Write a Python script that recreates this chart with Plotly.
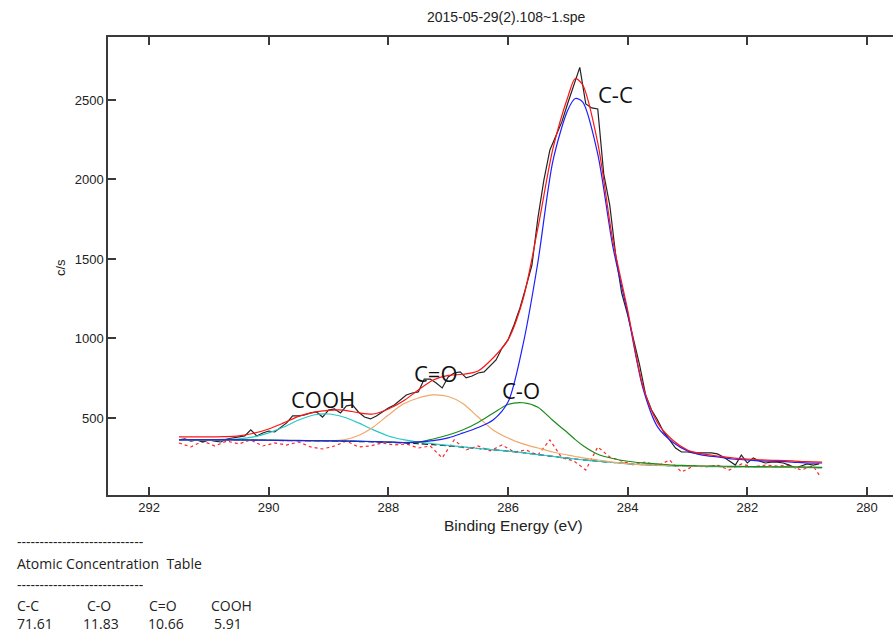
import plotly.graph_objects as go

# ---------------- data ----------------
title_text = "2015-05-29(2).108~1.spe"

# binding energy grid for the fitted curves
be_fit = [291.5, 291.25, 291.0, 290.75, 290.5, 290.25, 290.0, 289.75, 289.5, 289.25,
          289.0, 288.75, 288.5, 288.25, 288.0, 287.75, 287.5, 287.25, 287.0, 286.75,
          286.5, 286.25, 286.0, 285.75, 285.5, 285.25, 285.0, 284.875, 284.75, 284.5,
          284.25, 284.0, 283.75, 283.5, 283.25, 283.0, 282.75, 282.5, 282.25, 282.0,
          281.75, 281.5, 281.25, 281.0, 280.75]

background = [362, 362, 362, 362, 361, 360, 359, 358, 357, 356,
              355, 354, 352, 350, 347, 343, 338, 332, 325, 317,
              308, 300, 292, 282, 270, 258, 247, 242, 237, 228,
              220, 213, 207, 203, 200, 198, 196, 195, 194, 193,
              192, 191, 190, 189, 188]

cooh = [362, 362, 363, 365, 369, 381, 406, 443, 487, 519,
        525, 506, 469, 425, 387, 364, 349, 338, 328, 318,
        308, 300, 292, 282, 270, 258, 247, 242, 237, 228,
        220, 212, 206, 202, 199, 197, 195, 194, 193, 192,
        191, 190, 189, 188, 187]

c_eq_o = [362, 362, 362, 362, 361, 360, 359, 358, 357, 356,
          356, 362, 390, 444, 519, 588, 626, 645, 635, 590,
          506, 425, 374, 337, 311, 286, 267, 258, 249, 236,
          223, 213, 207, 203, 200, 198, 196, 195, 194, 193,
          192, 191, 190, 189, 188]

c_o = [364, 364, 364, 364, 363, 362, 361, 360, 359, 358,
       357, 356, 354, 352, 349, 346, 347, 368, 393, 426,
       472, 530, 585, 596, 568, 484, 406, 364, 327, 272,
       245, 228, 218, 211, 204, 201, 198, 197, 196, 195,
       194, 193, 192, 191, 190]

c_c = [362, 362, 362, 362, 362, 361, 360, 359, 358, 357,
       356, 355, 353, 351, 349, 346, 350, 358, 375, 406,
       440, 487, 600, 960, 1481, 2116, 2437, 2509, 2487, 2160,
       1582, 1160, 695, 444, 349, 293, 267, 255, 242, 236,
       230, 227, 223, 217, 217]

envelope = [381, 381, 381, 383, 388, 404, 431, 469, 510, 535,
            548, 550, 533, 525, 557, 607, 676, 739, 768, 775,
            796, 877, 991, 1245, 1695, 2192, 2519, 2635, 2594, 2230,
            1620, 1179, 708, 469, 362, 299, 274, 261, 249, 242,
            236, 233, 230, 225, 223]

# measured spectrum (0.1 eV steps)
be_raw = [291.5, 291.4, 291.3, 291.2, 291.1, 291.0, 290.9, 290.8, 290.7, 290.6,
          290.5, 290.4, 290.3, 290.2, 290.1, 290.0, 289.9, 289.8, 289.7, 289.6,
          289.5, 289.4, 289.3, 289.2, 289.1, 289.0, 288.9, 288.8, 288.7, 288.6,
          288.5, 288.4, 288.3, 288.2, 288.1, 288.0, 287.9, 287.8, 287.7, 287.6,
          287.5, 287.4, 287.3, 287.2, 287.1, 287.0, 286.9, 286.8, 286.7, 286.6,
          286.5, 286.4, 286.3, 286.2, 286.1, 286.0, 285.9, 285.8, 285.7, 285.6,
          285.5, 285.4, 285.3, 285.2, 285.1, 285.0, 284.9, 284.8, 284.7, 284.6,
          284.5, 284.4, 284.3, 284.2, 284.1, 284.0, 283.9, 283.8, 283.7, 283.6,
          283.5, 283.4, 283.3, 283.2, 283.1, 283.0, 282.9, 282.8, 282.7, 282.6,
          282.5, 282.4, 282.3, 282.2, 282.1, 282.0, 281.9, 281.8, 281.7, 281.6,
          281.5, 281.4, 281.3, 281.2, 281.1, 281.0, 280.9, 280.8]

raw_counts = [362, 368, 355, 362, 349, 362, 355, 349, 368, 374,
              381, 387, 425, 387, 406, 418, 412, 443, 469, 513,
              513, 519, 532, 538, 506, 550, 557, 532, 576, 582,
              538, 506, 494, 513, 538, 563, 582, 613, 645, 657,
              664, 745, 745, 720, 689, 758, 783, 790, 752, 764,
              783, 790, 827, 865, 940, 991, 1085, 1192, 1324, 1462,
              1758, 1997, 2186, 2280, 2362, 2481, 2600, 2705, 2475, 2450,
              2443, 2035, 1840, 1525, 1286, 1148, 991, 833, 645, 550,
              487, 412, 362, 311, 286, 286, 280, 280, 280, 280,
              274, 255, 230, 204, 267, 217, 249, 230, 217, 223,
              223, 217, 204, 186, 198, 211, 204, 211]

# residual (plotted on the background level)
be_res = [291.5, 291.3, 291.1, 290.9, 290.7, 290.5, 290.3, 290.1, 289.9, 289.7,
          289.5, 289.3, 289.1, 288.9, 288.7, 288.5, 288.3, 288.1, 287.9, 287.7,
          287.5, 287.3, 287.1, 286.9, 286.7, 286.5, 286.3, 286.1, 285.9, 285.7,
          285.5, 285.3, 285.1, 284.9, 284.7, 284.5, 284.3, 284.1, 283.9, 283.7,
          283.5, 283.3, 283.1, 282.9, 282.7, 282.5, 282.3, 282.1, 281.9, 281.7,
          281.5, 281.3, 281.1, 280.9, 280.8]

residual = [343, 318, 355, 324, 355, 337, 362, 324, 343, 330,
            349, 318, 305, 324, 355, 318, 324, 343, 330, 337,
            311, 324, 249, 362, 299, 324, 293, 330, 286, 299,
            267, 362, 249, 230, 173, 318, 255, 230, 204, 223,
            198, 236, 160, 198, 192, 204, 173, 211, 192, 204,
            198, 204, 173, 198, 142]

x_ticks = [292, 290, 288, 286, 284, 282, 280]
y_ticks = [500, 1000, 1500, 2000, 2500]

peak_labels = ["C-C", "C=O", "COOH", "C-O"]
peak_label_be = [284.2, 287.21, 289.09, 285.79]
peak_label_cps = [2538, 783, 620, 676]

table_title = "Atomic Concentration  Table"
table_names = ["C-C", "C-O", "C=O", "COOH"]
table_values = ["71.61", "11.83", "10.66", "5.91"]

# ---------------- layout helpers (pixel geometry) ----------------
W, H = 893, 634
PL, PR, PT, PB = 108, 893, 37, 495


def px(x):
    return (x - PL) / (PR - PL)


def py(y):
    return (PB - y) / (PB - PT)


fig = go.Figure()

LW = 1.2


def add_line(x, y, color, dash="solid", width=LW, shape="spline"):
    fig.add_trace(go.Scatter(x=x, y=y, mode="lines",
                             line=dict(color=color, width=width, dash=dash, shape=shape,
                                       smoothing=0.8 if shape == "spline" else None),
                             showlegend=False, hoverinfo="skip"))


add_line(be_res, residual, "rgb(255,40,40)", dash="3px,3px", shape="linear")
add_line(be_fit, background, "rgb(20,20,20)", dash="6px,3px")
add_line(be_raw, raw_counts, "rgb(35,35,35)", shape="linear")
add_line(be_fit, cooh, "rgb(40,200,200)")
add_line(be_fit, c_eq_o, "rgb(240,168,105)")
add_line(be_fit, c_o, "rgb(25,140,25)")
add_line(be_fit, c_c, "rgb(30,30,255)")
add_line(be_fit, envelope, "rgb(255,20,20)")

annotations = []
# chart title
annotations.append(dict(text=title_text, x=px(506), y=py(17), xref="paper", yref="paper",
                        showarrow=False, xanchor="center", yanchor="middle",
                        font=dict(family="Liberation Sans, Arial", size=14, color="#222")))
# axis titles
annotations.append(dict(text="Binding Energy (eV)", x=px(513), y=py(525), xref="paper", yref="paper",
                        showarrow=False, xanchor="center", yanchor="middle",
                        font=dict(family="Liberation Sans, Arial", size=15.5, color="#222")))
annotations.append(dict(text="c/s", x=px(60), y=py(268), xref="paper", yref="paper",
                        showarrow=False, xanchor="center", yanchor="middle", textangle=-90,
                        font=dict(family="Liberation Sans, Arial", size=13, color="#222")))
# peak labels
for t, xb, yc in zip(peak_labels, peak_label_be, peak_label_cps):
    annotations.append(dict(text=t, x=xb, y=yc, xref="x", yref="y", showarrow=False,
                            xanchor="center", yanchor="middle",
                            font=dict(family="Open Sans, Noto Sans", size=22, color="#111")))

# table under the chart
tfont = dict(family="Open Sans, Noto Sans", size=14, color="#222")
dash_line = "-" * 28
for yy, txt in [(541, dash_line), (563, table_title), (584, dash_line)]:
    annotations.append(dict(text=txt, x=px(15), y=py(yy), xref="paper", yref="paper",
                            showarrow=False, xanchor="left", yanchor="middle", font=tfont))
name_x = [15, 85, 147, 209]
val_x = [15, 81, 146, 212]
for nm, vv, nx, vx in zip(table_names, table_values, name_x, val_x):
    annotations.append(dict(text=nm, x=px(nx), y=py(605), xref="paper", yref="paper",
                            showarrow=False, xanchor="left", yanchor="middle", font=tfont))
    annotations.append(dict(text=vv, x=px(vx), y=py(623), xref="paper", yref="paper",
                            showarrow=False, xanchor="left", yanchor="middle", font=tfont))

axis_color = "#3a3a3a"
fig.update_layout(
    width=W, height=H,
    margin=dict(l=PL, r=W - PR, t=PT, b=H - PB, pad=0),
    paper_bgcolor="white", plot_bgcolor="white",
    annotations=annotations,
    xaxis=dict(range=[292.686, 279.565], tickvals=x_ticks, ticktext=[str(v) for v in x_ticks],
               ticks="inside", ticklen=8, tickwidth=1.5, tickcolor=axis_color,
               showline=True, linecolor=axis_color, linewidth=1.5, mirror="ticks",
               showgrid=False, zeroline=False,
               tickfont=dict(family="Liberation Sans, Arial", size=13, color="#222")),
    yaxis=dict(range=[15.7, 2896], tickvals=y_ticks, ticktext=[str(v) for v in y_ticks],
               ticks="inside", ticklen=8, tickwidth=1.5, tickcolor=axis_color,
               showline=True, linecolor=axis_color, linewidth=1.5, mirror=False,
               showgrid=False, zeroline=False,
               tickfont=dict(family="Liberation Sans, Arial", size=13, color="#222")),
)

fig.write_html("out.html", config={"displayModeBar": False},
               post_script="document.body.style.margin='0px';document.body.style.overflow='hidden';")
